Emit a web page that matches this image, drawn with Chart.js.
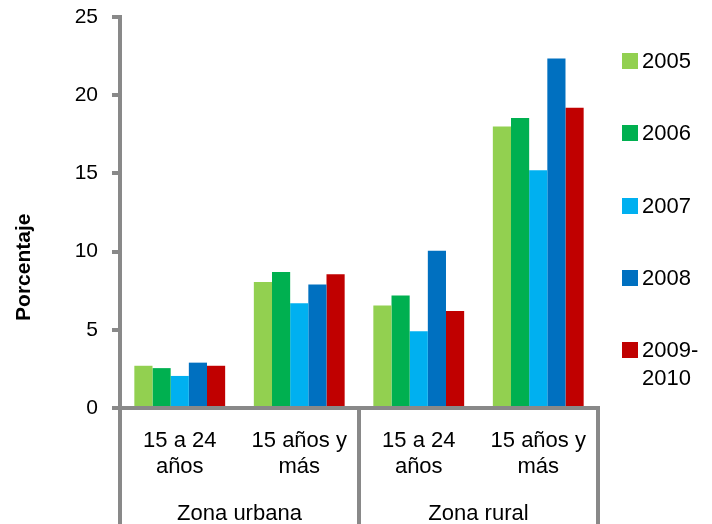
<!DOCTYPE html>
<html>
<head>
<meta charset="utf-8">
<script src="https://cdn.jsdelivr.net/npm/chart.js@4/dist/chart.umd.min.js"></script>
<style>
  html, body { margin: 0; padding: 0; background: #fff; }
  #wrap { position: relative; width: 712px; height: 524px; overflow: hidden; }
  #legend { position: absolute; left: 622px; top: 0; width: 90px; height: 524px;
            font-family: 'Liberation Sans', Arial, sans-serif; font-size: 22px; color: #000; }
  .item { position: absolute; left: 0; display: flex; align-items: flex-start; line-height: 28px; }
  .box { width: 16px; height: 16px; margin-top: 6px; margin-right: 4px; flex: none; }
  .txt { width: 58px; }
</style>
</head>
<body>
<div id="wrap">
  <canvas id="c" width="712" height="524"></canvas>
  <div id="legend"></div>
</div>
<script>
// ---- data ----
const categories = [['15 a 24', 'años'], ['15 años y', 'más'], ['15 a 24', 'años'], ['15 años y', 'más']];
const zones = ['Zona urbana', 'Zona rural'];
const seriesNames = ['2005', '2006', '2007', '2008', '2009-2010'];
const seriesColors = ['#92D050', '#00B050', '#00B0F0', '#0070C0', '#C00000'];
const values2005 = [2.7, 8.05, 6.55, 18.0];
const values2006 = [2.55, 8.7, 7.2, 18.55];
const values2007 = [2.05, 6.7, 4.9, 15.2];
const values2008 = [2.9, 7.9, 10.05, 22.35];
const values2009_2010 = [2.7, 8.55, 6.2, 19.2];
const yAxisTitle = 'Porcentaje';
const yMin = 0, yMax = 25, yStep = 5;

const seriesValues = [values2005, values2006, values2007, values2008, values2009_2010];
const GRAY = '#898989';
Chart.defaults.font.family = "'Liberation Sans', Arial, sans-serif";
Chart.defaults.color = '#000';

const yTitlePlugin = {
  id: 'yTitle',
  afterDraw(chart) {
    const ctx = chart.ctx;
    const a = chart.chartArea;
    ctx.save();
    ctx.translate(24, a.top + (a.bottom - a.top) * 0.64);
    ctx.rotate(-Math.PI / 2);
    ctx.font = "bold 21px 'Liberation Sans', Arial, sans-serif";
    ctx.fillStyle = '#000';
    ctx.textAlign = 'center';
    ctx.textBaseline = 'middle';
    ctx.fillText(yAxisTitle, 0, 0);
    ctx.restore();
  }
};

new Chart(document.getElementById('c'), {
  type: 'bar',
  data: {
    labels: categories,
    datasets: seriesNames.map((n, i) => ({
      label: n,
      data: seriesValues[i],
      backgroundColor: seriesColors[i],
      borderWidth: 0,
      categoryPercentage: 0.76,
      barPercentage: 1.0
    }))
  },
  options: {
    responsive: false,
    animation: false,
    layout: { padding: { top: 17, right: 114, bottom: 0, left: 0 } },
    plugins: { legend: { display: false }, tooltip: { enabled: false } },
    scales: {
      y: {
        min: yMin, max: yMax,
        ticks: { stepSize: yStep, padding: 14, font: { size: 21 }, color: '#000' },
        grid: { drawOnChartArea: false, drawTicks: true, tickLength: 8, lineWidth: 4, color: GRAY },
        border: { display: true, width: 4, color: GRAY },
        afterFit(s) { s.width = 120; s.paddingTop = 0; s.paddingBottom = 0; }
      },
      x: {
        weight: 0,
        offset: true,
        ticks: { padding: -100, font: { size: 22, lineHeight: 1.18 }, color: '#000', maxRotation: 0, autoSkip: false },
        grid: {
          offset: true, drawOnChartArea: false, drawTicks: true, tickLength: 120, lineWidth: 4,
          color: c => (c.index === undefined || c.index % 2 === 0) ? GRAY : 'rgba(0,0,0,0)'
        },
        border: { display: true, width: 4, color: GRAY },
        afterFit(s) { s.height = 74; }
      },
      x2: {
        type: 'category',
        position: 'bottom',
        weight: 1,
        labels: zones,
        offset: true,
        ticks: { padding: 19, font: { size: 22, lineHeight: 1.18 }, color: '#000', maxRotation: 0, autoSkip: false },
        grid: { display: false, drawTicks: false },
        border: { display: false },
        afterFit(s) { s.height = 42; }
      }
    }
  },
  plugins: [yTitlePlugin]
});

// legend
const leg = document.getElementById('legend');
seriesNames.forEach((n, i) => {
  const it = document.createElement('div');
  it.className = 'item';
  it.style.top = (47 + i * 72.25) + 'px';
  const b = document.createElement('div');
  b.className = 'box';
  b.style.background = seriesColors[i];
  const t = document.createElement('div');
  t.className = 'txt';
  t.textContent = n;
  it.appendChild(b); it.appendChild(t);
  leg.appendChild(it);
});
</script>
</body>
</html>
